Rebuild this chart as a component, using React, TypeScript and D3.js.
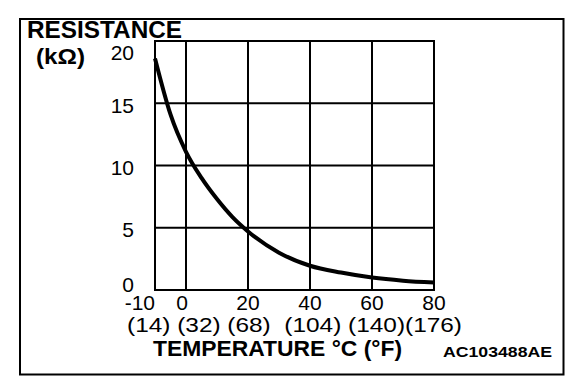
import React from "react";
import * as d3 from "d3";

const tempC = [-10, -5, 0, 5, 10, 15, 20, 30, 40, 50, 60, 70, 80];
const resistance = [18.6, 14.1, 11.1, 9.0, 7.3, 5.85, 4.7, 3.0, 1.95, 1.4, 1.0, 0.75, 0.6];
const xTicks = [-10, 0, 20, 40, 60, 80];
const yTicks = [0, 5, 10, 15, 20];
const xGrid = [0, 20, 40, 60];
const yGrid = [5, 10, 15];
const fahrenheitLabel = "(14) (32) (68)  (104) (140)(176)";
const yTitle1 = "RESISTANCE";
const yTitle2 = "(kΩ)";
const xTitle = "TEMPERATURE °C (°F)";
const code = "AC103488AE";

const FONT = "'Liberation Sans', Arial, Helvetica, sans-serif";

export default function App() {
  const W = 576, H = 386;
  const x = d3.scaleLinear().domain([-10, 80]).range([155, 434]);
  const y = d3.scaleLinear().domain([0, 20]).range([290, 41]);
  const pts = tempC.map((t, i) => [t, resistance[i]] as [number, number]);
  const line = d3
    .line<[number, number]>()
    .x((d) => x(d[0]))
    .y((d) => y(d[1]))
    .curve(d3.curveMonotoneX);

  const yLabelDy = (v: number) => (v === 20 ? 19 : v === 0 ? 2 : v === 15 ? 10 : 9);

  return (
    <svg
      width={W}
      height={H}
      style={{ position: "absolute", left: 0, top: 0, background: "#fff" }}
    >
      <rect x={0} y={0} width={W} height={H} fill="#fff" />
      <rect x={20} y={19} width={543.5} height={355.5} fill="none" stroke="#000" strokeWidth={2} />
      {xGrid.map((v) => (
        <line key={"xg" + v} x1={x(v)} x2={x(v)} y1={y(20)} y2={y(0)} stroke="#000" strokeWidth={2} />
      ))}
      {yGrid.map((v) => (
        <line key={"yg" + v} x1={x(-10)} x2={x(80)} y1={y(v)} y2={y(v)} stroke="#000" strokeWidth={2} />
      ))}
      <rect
        x={x(-10)}
        y={y(20)}
        width={x(80) - x(-10)}
        height={y(0) - y(20)}
        fill="none"
        stroke="#000"
        strokeWidth={2}
      />
      <path d={line(pts) || ""} fill="none" stroke="#000" strokeWidth={4} strokeLinejoin="round" />
      {yTicks.map((v) => (
        <text
          key={"yt" + v}
          x={134}
          y={y(v) + yLabelDy(v)}
          textAnchor="end"
          fontFamily={FONT}
          fontSize={21}
          fill="#000"
        >
          {v}
        </text>
      ))}
      {xTicks.map((v) => (
        <text
          key={"xt" + v}
          x={v === -10 ? x(v) : v === 0 ? x(v) - 4 : x(v)}
          y={310}
          textAnchor={v === -10 ? "end" : "middle"}
          fontFamily={FONT}
          fontSize={21}
          fill="#000"
        >
          {v}
        </text>
      ))}
      <text
        x={127}
        y={332}
        fontFamily={FONT}
        fontSize={21}
        fill="#000"
        textLength={335}
        lengthAdjust="spacingAndGlyphs"
        style={{ whiteSpace: "pre" }}
      >
        {fahrenheitLabel}
      </text>
      <text
        x={27}
        y={38}
        fontFamily={FONT}
        fontSize={23}
        fontWeight="bold"
        fill="#000"
        textLength={155}
        lengthAdjust="spacingAndGlyphs"
      >
        {yTitle1}
      </text>
      <text
        x={36}
        y={64}
        fontFamily={FONT}
        fontSize={22}
        fontWeight="bold"
        fill="#000"
        textLength={49}
        lengthAdjust="spacingAndGlyphs"
      >
        {yTitle2}
      </text>
      <text
        x={153}
        y={356}
        fontFamily={FONT}
        fontSize={22}
        fontWeight="bold"
        fill="#000"
        textLength={249}
        lengthAdjust="spacingAndGlyphs"
      >
        {xTitle}
      </text>
      <text
        x={443}
        y={357}
        fontFamily={FONT}
        fontSize={14}
        fontWeight="bold"
        fill="#000"
        textLength={109}
        lengthAdjust="spacingAndGlyphs"
      >
        {code}
      </text>
    </svg>
  );
}
